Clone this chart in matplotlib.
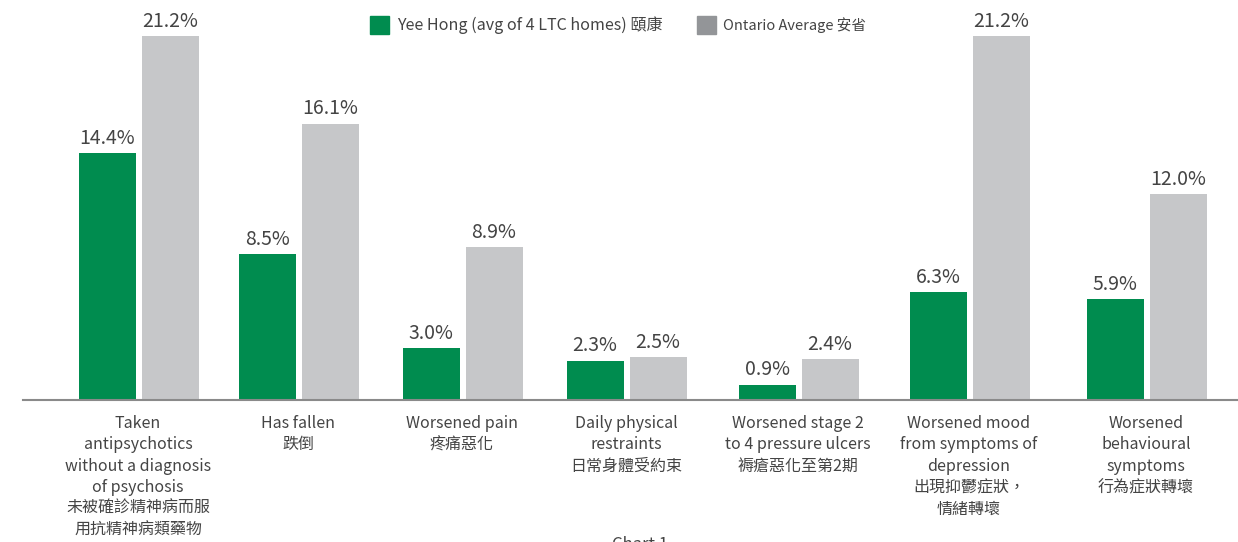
import matplotlib.pyplot as plt
from matplotlib.patches import Rectangle

plt.rcParams['font.family'] = ['Noto Sans CJK TC', 'DejaVu Sans']
plt.rcParams['font.weight'] = 'light'

categories = [
    "Taken\nantipsychotics\nwithout a diagnosis\nof psychosis\n未被確診精神病而服\n用抗精神病類藥物",
    "Has fallen\n跌倒",
    "Worsened pain\n疼痛惡化",
    "Daily physical\nrestraints\n日常身體受約束",
    "Worsened stage 2\nto 4 pressure ulcers\n褥瘡惡化至第2期",
    "Worsened mood\nfrom symptoms of\ndepression\n出現抑鬱症狀，\n情緒轉壞",
    "Worsened\nbehavioural\nsymptoms\n行為症狀轉壞",
]
yee_hong = [14.4, 8.5, 3.0, 2.3, 0.9, 6.3, 5.9]
ontario = [21.2, 16.1, 8.9, 2.5, 2.4, 21.2, 12.0]
legend_labels = ["Yee Hong (avg of 4 LTC homes) 頤康", "Ontario Average 安省"]

# layout (pixel units along x)
centers = [138, 298, 462, 626, 798, 969, 1146]
bar_w = 57
green = "#008C4F"
grey = "#C6C7C9"
txt = "#444444"

W, H = 1238, 542
fig = plt.figure(figsize=(W / 100, H / 100), dpi=100)
ax = fig.add_axes([0, 142 / H, 1, 400 / H])
ax.set_xlim(0, W)
ax.set_ylim(0, 400 / 17.17)
ax.axis("off")

for i, c in enumerate(centers):
    ax.bar(c - 31, yee_hong[i], width=bar_w, color=green, align="center")
    ax.bar(c + 32, ontario[i], width=bar_w, color=grey, align="center")
    ax.annotate(f"{yee_hong[i]:.1f}%", (c - 31, yee_hong[i]), xytext=(0, 3),
                textcoords="offset points", ha="center", va="bottom",
                fontsize=14, color=txt, annotation_clip=False)
    ax.annotate(f"{ontario[i]:.1f}%", (c + 32, ontario[i]), xytext=(0, 3),
                textcoords="offset points", ha="center", va="bottom",
                fontsize=14, color=txt, annotation_clip=False)
    ax.text(c, -0.88, categories[i], ha="center", va="top", fontsize=11.5,
            color=txt, linespacing=1.33, clip_on=False)

ax.plot([23, W], [0, 0], color="#8a8a8a", lw=1.5, clip_on=False)

# legend
fig.patches.append(Rectangle((370 / W, 1 - 34 / H), 19 / W, 18 / H,
                             transform=fig.transFigure, color=green))
fig.text(397 / W, 1 - 25 / H, legend_labels[0], ha="left", va="center",
         fontsize=11.6, color=txt)
fig.patches.append(Rectangle((697 / W, 1 - 34 / H), 19 / W, 18 / H,
                             transform=fig.transFigure, color="#939598"))
fig.text(723 / W, 1 - 25 / H, legend_labels[1], ha="left", va="center",
         fontsize=10.5, color=txt)

fig.text(640 / W, -11 / H, "Chart 1", ha="center", va="bottom",
         fontsize=12, color=txt)

fig.savefig("out.png", dpi=100)
